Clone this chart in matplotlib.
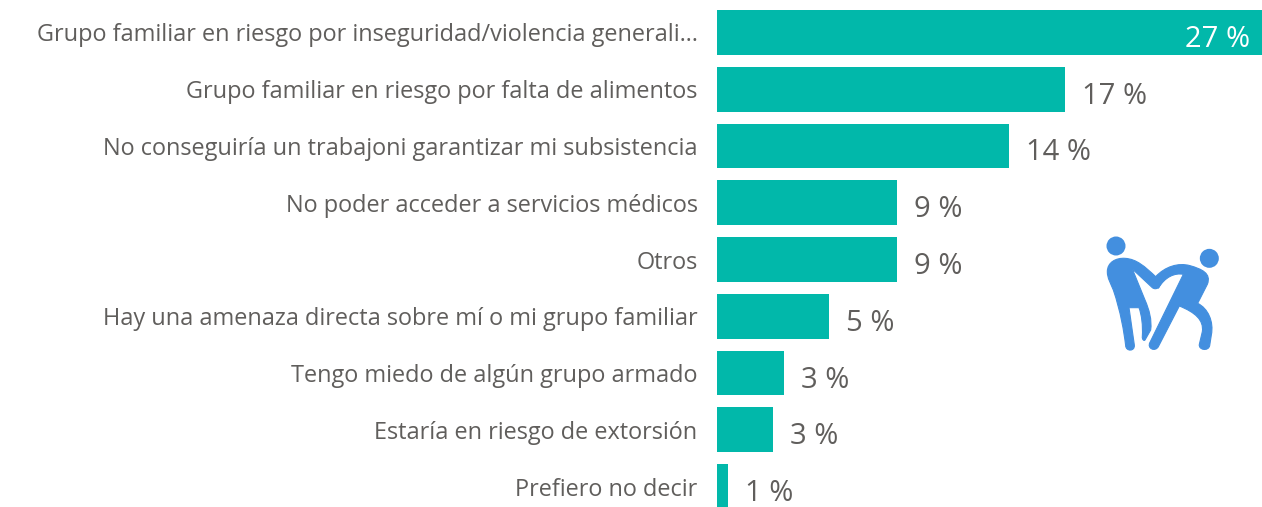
import matplotlib
matplotlib.use('Agg')
import matplotlib.pyplot as plt
from matplotlib.path import Path
from matplotlib.patches import PathPatch, Circle

categories = ["Grupo familiar en riesgo por inseguridad/violencia generali\u2026",
              "Grupo familiar en riesgo por falta de alimentos",
              "No conseguir\u00eda un trabajoni garantizar mi subsistencia",
              "No poder acceder a servicios m\u00e9dicos",
              "Otros",
              "Hay una amenaza directa sobre m\u00ed o mi grupo familiar",
              "Tengo miedo de alg\u00fan grupo armado",
              "Estar\u00eda en riesgo de extorsi\u00f3n",
              "Prefiero no decir"]
values = [27.0, 17.25, 14.45, 8.9, 8.9, 5.55, 3.3, 2.78, 0.55]
value_labels = ["27 %", "17 %", "14 %", "9 %", "9 %", "5 %", "3 %", "3 %", "1 %"]

W, H = 1262, 507
BAR = '#01B8AA'
GREY = '#605E5C'
ICON = '#438FDF'

plt.rcParams['font.family'] = ['Open Sans', 'DejaVu Sans']

fig = plt.figure(figsize=(W/100, H/100), dpi=100)
ax = fig.add_axes([717/W, 0, 545/W, 1])
ypos = list(range(len(categories)))
ax.barh(ypos, values, height=0.79, color=BAR)
ax.set_xlim(0, 27)
ax.set_ylim(8.36, -0.572)
ax.set_xticks([])
ax.set_yticks(ypos)
ax.set_yticklabels(categories, fontsize=16.9, color=GREY)
ax.tick_params(axis='y', length=0, pad=14)
for s in ax.spines.values():
    s.set_visible(False)

# value labels, first one sits inside the bar
for i, (v, lab) in enumerate(zip(values, value_labels)):
    if i == 0:
        ax.annotate(lab, (v, i), xytext=(-12, -7), textcoords='offset pixels',
                    ha='right', va='center', fontsize=21, color='white')
    else:
        ax.annotate(lab, (v, i), xytext=(17, -7), textcoords='offset pixels',
                    ha='left', va='center', fontsize=21, color=GREY)

# people icon, drawn in pixel coords of the zoomed crop
icon = fig.add_axes([0, 0, 1, 1])
icon.set_xlim(0, W)
icon.set_ylim(H, 0)
icon.axis('off')
icon.patch.set_alpha(0)

def px(p):
    return (1090 + p[0]/3, 225 + p[1]/3)

def shape(start, segs):
    verts = [px(start)]
    codes = [Path.MOVETO]
    for seg in segs:
        if len(seg) == 1:
            verts.append(px(seg[0]))
            codes.append(Path.LINETO)
        else:
            verts.extend(px(q) for q in seg)
            codes.extend([Path.CURVE4] * 3)
    verts.append(px(start))
    codes.append(Path.CLOSEPOLY)
    return Path(verts, codes)

left_man = shape((52, 140), [
    ((52, 112), (78, 98), (105, 100)),
    ((140, 102), (165, 125), (197, 155)),
    ((204, 162), (209, 168), (212, 174)),
    ((210, 188), (198, 196), (187, 188)),
    ((127, 132),),
    ((165, 225),),
    ((178, 255), (186, 285), (182, 315)),
    ((165, 345),),
    ((161, 349), (156, 342), (157, 335)),
    ((159, 300), (155, 270), (147, 248)),
    ((117, 248),),
    ((133, 360),),
    ((135, 380), (108, 380), (107, 362)),
    ((102, 320), (92, 260), (70, 195)),
    ((62, 175), (52, 160), (52, 140)),
])
right_man = shape((197, 155), [
    ((225, 125), (265, 112), (300, 122)),
    ((335, 132), (365, 145), (352, 178)),
    ((323, 235),),
    ((354, 250), (372, 290), (364, 330)),
    ((359, 362),),
    ((355, 380), (325, 375), (328, 358)),
    ((337, 320),),
    ((342, 285), (315, 262), (268, 243)),
    ((205, 365),),
    ((195, 382), (170, 370), (180, 352)),
    ((280, 148),),
    ((255, 143), (225, 155), (205, 190)),
    ((200, 175),),
])
icon.add_patch(PathPatch(left_man, fc=ICON, ec=ICON, lw=0.8))
icon.add_patch(PathPatch(right_man, fc=ICON, ec=ICON, lw=0.8))
icon.add_patch(Circle(px((78, 63)), 9.5, fc=ICON, ec='none'))
icon.add_patch(Circle(px((358, 100)), 9.5, fc=ICON, ec='none'))

fig.savefig('out.png', dpi=100)
